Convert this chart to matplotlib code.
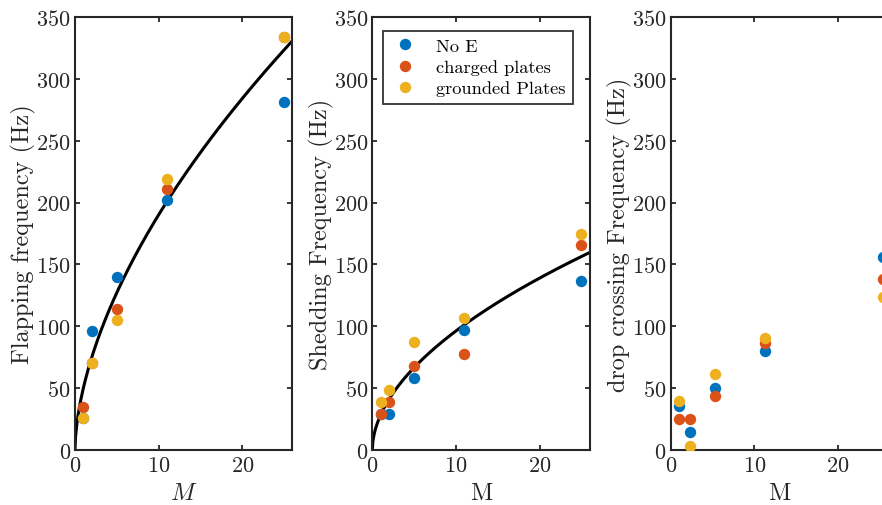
import numpy as np
import matplotlib.pyplot as plt

plt.rcParams['font.family'] = 'cmr10'
plt.rcParams['mathtext.fontset'] = 'cm'
plt.rcParams['axes.formatter.use_mathtext'] = True
plt.rcParams['font.size'] = 16

# MATLAB default colour order
c_blue = '#0072BD'
c_red = '#D95319'
c_yellow = '#EDB120'

labels = ['No E', 'charged plates', 'grounded Plates']

# flapping frequency (Hz)
M_flap = [1, 2, 5, 11, 25]
flap_noE = [26, 96, 140, 202, 281]
flap_charged = [35, 70, 114, 211, 334]
flap_grounded = [26, 70, 105, 219, 334]
flap_fit = (50.0, 0.58)   # f = a * M^b

# shedding frequency (Hz)
M_shed = [1, 2, 5, 11, 25]
shed_noE = [29, 29, 58, 97, 137]
shed_charged = [29, 38.5, 68, 78, 166]
shed_grounded = [39, 48.5, 87.6, 107, 175]
shed_fit = (28.4, 0.53)

# drop crossing frequency (Hz)
M_cross = [1.0, 2.3, 5.3, 11.3, 25.4]
cross_noE = [35.8, 14.5, 50.3, 79.8, 156]
cross_charged = [25, 25, 43.4, 86.7, 138]
cross_grounded = [39.6, 3.2, 61.5, 90.8, 123.7]

fig = plt.figure(figsize=(8.82, 5.06), dpi=100)
w, h, b = 0.2466, 0.8557, 0.1087
lefts = [0.0850, 0.4221, 0.7604]
axes = [fig.add_axes([l, b, w, h]) for l in lefts]

panels = [
    (M_flap, [flap_noE, flap_charged, flap_grounded], flap_fit,
     'Flapping frequency (Hz)', r'$M$'),
    (M_shed, [shed_noE, shed_charged, shed_grounded], shed_fit,
     'Shedding Frequency (Hz)', 'M'),
    (M_cross, [cross_noE, cross_charged, cross_grounded], None,
     'drop crossing Frequency (Hz)', 'M'),
]

ink = '#262626'
for ax, (M, series, fit, ylab, xlab) in zip(axes, panels):
    for ys, col, lab in zip(series, [c_blue, c_red, c_yellow], labels):
        ax.plot(M, ys, 'o', color=col, markersize=8.2, markeredgewidth=0,
                label=lab, zorder=3)
    if fit is not None:
        mm = np.linspace(0, 26, 400)
        ax.plot(mm, fit[0] * mm ** fit[1], color='black', lw=2.2, zorder=2)
    ax.set_xlim(0, 26)
    ax.set_ylim(0, 350)
    ax.set_xticks([0, 10, 20])
    ax.set_yticks(np.arange(0, 351, 50))
    ax.tick_params(direction='in', length=3.6, width=1.3, top=True, right=True,
                   colors=ink, labelsize=16, pad=3)
    ax.tick_params(axis='x', pad=4)
    for sp in ax.spines.values():
        sp.set_linewidth(1.5)
        sp.set_color(ink)
    ax.set_ylabel(ylab, fontsize=17.5, color=ink, labelpad=0)
    ax.set_xlabel(xlab, fontsize=17.5, color=ink, labelpad=5)

leg = axes[1].legend(loc='upper left', bbox_to_anchor=(0.008, 0.99),
                     fontsize=13.2, frameon=True, fancybox=False,
                     handletextpad=0.9, borderpad=0.4, labelspacing=0.3,
                     handlelength=1.6)
leg.get_frame().set_edgecolor('black')
leg.get_frame().set_linewidth(1.3)

fig.savefig('out.png', dpi=100)
